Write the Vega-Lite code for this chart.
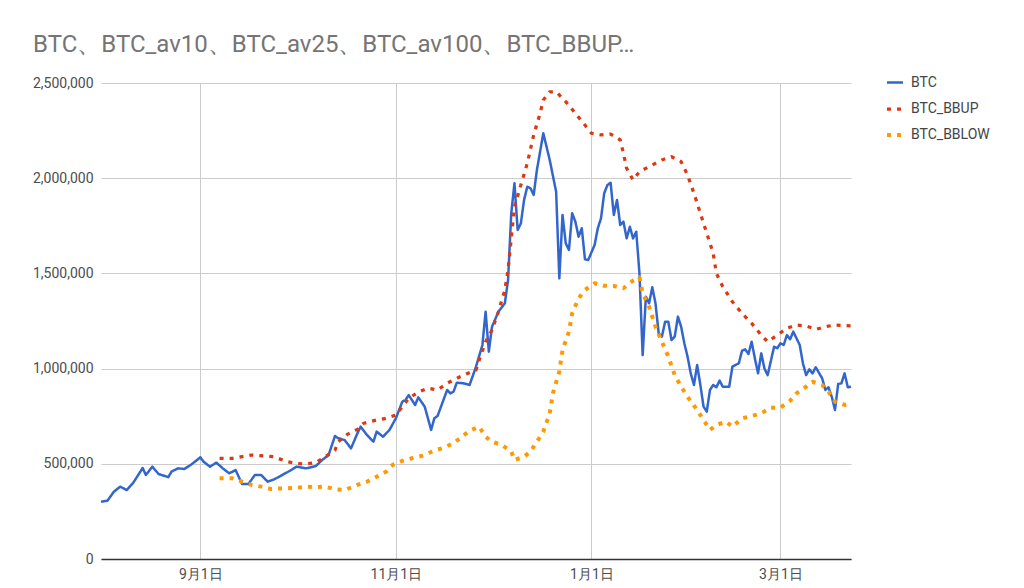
{
  "$schema": "https://vega.github.io/schema/vega-lite/v6.json",
  "autosize": {"type": "none"},
  "width": 750,
  "height": 476,
  "padding": {"left": 101, "top": 83, "right": 173, "bottom": 29},
  "background": "white",
  "title": {
    "text": "BTC、BTC_av10、BTC_av25、BTC_av100、BTC_BBUP…",
    "anchor": "start",
    "frame": "group",
    "dx": -68,
    "offset": 16,
    "font": "Roboto",
    "fontSize": 24,
    "fontWeight": "normal",
    "color": "#757575"
  },
  "data": {
    "format": {"parse": {"date": "date:'%Y-%m-%d'"}},
    "values": [
      {"date": "2017-08-01", "series": "BTC", "value": 301000},
      {"date": "2017-08-03", "series": "BTC", "value": 306000},
      {"date": "2017-08-05", "series": "BTC", "value": 353000},
      {"date": "2017-08-07", "series": "BTC", "value": 380000},
      {"date": "2017-08-09", "series": "BTC", "value": 362000},
      {"date": "2017-08-11", "series": "BTC", "value": 399000},
      {"date": "2017-08-14", "series": "BTC", "value": 478000},
      {"date": "2017-08-15", "series": "BTC", "value": 441000},
      {"date": "2017-08-17", "series": "BTC", "value": 485000},
      {"date": "2017-08-19", "series": "BTC", "value": 446000},
      {"date": "2017-08-22", "series": "BTC", "value": 430000},
      {"date": "2017-08-23", "series": "BTC", "value": 459000},
      {"date": "2017-08-25", "series": "BTC", "value": 476000},
      {"date": "2017-08-27", "series": "BTC", "value": 473000},
      {"date": "2017-08-29", "series": "BTC", "value": 494000},
      {"date": "2017-09-01", "series": "BTC", "value": 534000},
      {"date": "2017-09-02", "series": "BTC", "value": 511000},
      {"date": "2017-09-04", "series": "BTC", "value": 485000},
      {"date": "2017-09-06", "series": "BTC", "value": 506000},
      {"date": "2017-09-08", "series": "BTC", "value": 476000},
      {"date": "2017-09-10", "series": "BTC", "value": 450000},
      {"date": "2017-09-12", "series": "BTC", "value": 467000},
      {"date": "2017-09-14", "series": "BTC", "value": 394000},
      {"date": "2017-09-16", "series": "BTC", "value": 394000},
      {"date": "2017-09-18", "series": "BTC", "value": 441000},
      {"date": "2017-09-20", "series": "BTC", "value": 441000},
      {"date": "2017-09-22", "series": "BTC", "value": 406000},
      {"date": "2017-09-24", "series": "BTC", "value": 418000},
      {"date": "2017-09-26", "series": "BTC", "value": 436000},
      {"date": "2017-09-29", "series": "BTC", "value": 464000},
      {"date": "2017-10-01", "series": "BTC", "value": 485000},
      {"date": "2017-10-04", "series": "BTC", "value": 476000},
      {"date": "2017-10-07", "series": "BTC", "value": 488000},
      {"date": "2017-10-09", "series": "BTC", "value": 520000},
      {"date": "2017-10-11", "series": "BTC", "value": 546000},
      {"date": "2017-10-13", "series": "BTC", "value": 646000},
      {"date": "2017-10-14", "series": "BTC", "value": 634000},
      {"date": "2017-10-16", "series": "BTC", "value": 625000},
      {"date": "2017-10-18", "series": "BTC", "value": 581000},
      {"date": "2017-10-20", "series": "BTC", "value": 660000},
      {"date": "2017-10-21", "series": "BTC", "value": 695000},
      {"date": "2017-10-23", "series": "BTC", "value": 651000},
      {"date": "2017-10-25", "series": "BTC", "value": 616000},
      {"date": "2017-10-26", "series": "BTC", "value": 669000},
      {"date": "2017-10-28", "series": "BTC", "value": 642000},
      {"date": "2017-10-30", "series": "BTC", "value": 678000},
      {"date": "2017-11-01", "series": "BTC", "value": 739000},
      {"date": "2017-11-03", "series": "BTC", "value": 826000},
      {"date": "2017-11-04", "series": "BTC", "value": 835000},
      {"date": "2017-11-05", "series": "BTC", "value": 861000},
      {"date": "2017-11-07", "series": "BTC", "value": 809000},
      {"date": "2017-11-08", "series": "BTC", "value": 849000},
      {"date": "2017-11-10", "series": "BTC", "value": 800000},
      {"date": "2017-11-12", "series": "BTC", "value": 678000},
      {"date": "2017-11-13", "series": "BTC", "value": 739000},
      {"date": "2017-11-14", "series": "BTC", "value": 751000},
      {"date": "2017-11-17", "series": "BTC", "value": 888000},
      {"date": "2017-11-18", "series": "BTC", "value": 870000},
      {"date": "2017-11-19", "series": "BTC", "value": 879000},
      {"date": "2017-11-20", "series": "BTC", "value": 926000},
      {"date": "2017-11-22", "series": "BTC", "value": 923000},
      {"date": "2017-11-24", "series": "BTC", "value": 914000},
      {"date": "2017-11-26", "series": "BTC", "value": 1010000},
      {"date": "2017-11-28", "series": "BTC", "value": 1124000},
      {"date": "2017-11-29", "series": "BTC", "value": 1299000},
      {"date": "2017-11-30", "series": "BTC", "value": 1089000},
      {"date": "2017-12-01", "series": "BTC", "value": 1220000},
      {"date": "2017-12-03", "series": "BTC", "value": 1299000},
      {"date": "2017-12-05", "series": "BTC", "value": 1343000},
      {"date": "2017-12-06", "series": "BTC", "value": 1465000},
      {"date": "2017-12-07", "series": "BTC", "value": 1816000},
      {"date": "2017-12-08", "series": "BTC", "value": 1973000},
      {"date": "2017-12-09", "series": "BTC", "value": 1728000},
      {"date": "2017-12-10", "series": "BTC", "value": 1763000},
      {"date": "2017-12-11", "series": "BTC", "value": 1886000},
      {"date": "2017-12-12", "series": "BTC", "value": 1955000},
      {"date": "2017-12-13", "series": "BTC", "value": 1947000},
      {"date": "2017-12-14", "series": "BTC", "value": 1912000},
      {"date": "2017-12-15", "series": "BTC", "value": 2043000},
      {"date": "2017-12-17", "series": "BTC", "value": 2236000},
      {"date": "2017-12-19", "series": "BTC", "value": 2096000},
      {"date": "2017-12-21", "series": "BTC", "value": 1929000},
      {"date": "2017-12-22", "series": "BTC", "value": 1474000},
      {"date": "2017-12-23", "series": "BTC", "value": 1807000},
      {"date": "2017-12-24", "series": "BTC", "value": 1658000},
      {"date": "2017-12-25", "series": "BTC", "value": 1623000},
      {"date": "2017-12-26", "series": "BTC", "value": 1816000},
      {"date": "2017-12-27", "series": "BTC", "value": 1772000},
      {"date": "2017-12-28", "series": "BTC", "value": 1693000},
      {"date": "2017-12-29", "series": "BTC", "value": 1737000},
      {"date": "2017-12-30", "series": "BTC", "value": 1574000},
      {"date": "2017-12-31", "series": "BTC", "value": 1570000},
      {"date": "2018-01-02", "series": "BTC", "value": 1649000},
      {"date": "2018-01-03", "series": "BTC", "value": 1737000},
      {"date": "2018-01-04", "series": "BTC", "value": 1789000},
      {"date": "2018-01-05", "series": "BTC", "value": 1921000},
      {"date": "2018-01-06", "series": "BTC", "value": 1964000},
      {"date": "2018-01-07", "series": "BTC", "value": 1976000},
      {"date": "2018-01-08", "series": "BTC", "value": 1807000},
      {"date": "2018-01-09", "series": "BTC", "value": 1886000},
      {"date": "2018-01-10", "series": "BTC", "value": 1754000},
      {"date": "2018-01-11", "series": "BTC", "value": 1772000},
      {"date": "2018-01-12", "series": "BTC", "value": 1684000},
      {"date": "2018-01-13", "series": "BTC", "value": 1745000},
      {"date": "2018-01-14", "series": "BTC", "value": 1684000},
      {"date": "2018-01-15", "series": "BTC", "value": 1719000},
      {"date": "2018-01-16", "series": "BTC", "value": 1500000},
      {"date": "2018-01-17", "series": "BTC", "value": 1071000},
      {"date": "2018-01-18", "series": "BTC", "value": 1378000},
      {"date": "2018-01-19", "series": "BTC", "value": 1343000},
      {"date": "2018-01-20", "series": "BTC", "value": 1427000},
      {"date": "2018-01-21", "series": "BTC", "value": 1343000},
      {"date": "2018-01-22", "series": "BTC", "value": 1185000},
      {"date": "2018-01-23", "series": "BTC", "value": 1168000},
      {"date": "2018-01-24", "series": "BTC", "value": 1246000},
      {"date": "2018-01-25", "series": "BTC", "value": 1246000},
      {"date": "2018-01-26", "series": "BTC", "value": 1150000},
      {"date": "2018-01-27", "series": "BTC", "value": 1168000},
      {"date": "2018-01-28", "series": "BTC", "value": 1273000},
      {"date": "2018-01-29", "series": "BTC", "value": 1220000},
      {"date": "2018-01-30", "series": "BTC", "value": 1133000},
      {"date": "2018-01-31", "series": "BTC", "value": 1063000},
      {"date": "2018-02-01", "series": "BTC", "value": 975000},
      {"date": "2018-02-02", "series": "BTC", "value": 914000},
      {"date": "2018-02-03", "series": "BTC", "value": 1019000},
      {"date": "2018-02-04", "series": "BTC", "value": 914000},
      {"date": "2018-02-05", "series": "BTC", "value": 800000},
      {"date": "2018-02-06", "series": "BTC", "value": 774000},
      {"date": "2018-02-07", "series": "BTC", "value": 888000},
      {"date": "2018-02-08", "series": "BTC", "value": 914000},
      {"date": "2018-02-09", "series": "BTC", "value": 902000},
      {"date": "2018-02-10", "series": "BTC", "value": 937000},
      {"date": "2018-02-11", "series": "BTC", "value": 905000},
      {"date": "2018-02-13", "series": "BTC", "value": 905000},
      {"date": "2018-02-14", "series": "BTC", "value": 1010000},
      {"date": "2018-02-16", "series": "BTC", "value": 1028000},
      {"date": "2018-02-17", "series": "BTC", "value": 1094000},
      {"date": "2018-02-18", "series": "BTC", "value": 1101000},
      {"date": "2018-02-19", "series": "BTC", "value": 1077000},
      {"date": "2018-02-20", "series": "BTC", "value": 1141000},
      {"date": "2018-02-21", "series": "BTC", "value": 1054000},
      {"date": "2018-02-22", "series": "BTC", "value": 975000},
      {"date": "2018-02-23", "series": "BTC", "value": 1080000},
      {"date": "2018-02-24", "series": "BTC", "value": 1000000},
      {"date": "2018-02-25", "series": "BTC", "value": 966000},
      {"date": "2018-02-27", "series": "BTC", "value": 1115000},
      {"date": "2018-02-28", "series": "BTC", "value": 1107000},
      {"date": "2018-03-01", "series": "BTC", "value": 1133000},
      {"date": "2018-03-02", "series": "BTC", "value": 1124000},
      {"date": "2018-03-03", "series": "BTC", "value": 1176000},
      {"date": "2018-03-04", "series": "BTC", "value": 1154000},
      {"date": "2018-03-05", "series": "BTC", "value": 1194000},
      {"date": "2018-03-07", "series": "BTC", "value": 1124000},
      {"date": "2018-03-08", "series": "BTC", "value": 1028000},
      {"date": "2018-03-09", "series": "BTC", "value": 966000},
      {"date": "2018-03-10", "series": "BTC", "value": 996000},
      {"date": "2018-03-11", "series": "BTC", "value": 975000},
      {"date": "2018-03-12", "series": "BTC", "value": 1007000},
      {"date": "2018-03-14", "series": "BTC", "value": 949000},
      {"date": "2018-03-15", "series": "BTC", "value": 888000},
      {"date": "2018-03-16", "series": "BTC", "value": 902000},
      {"date": "2018-03-17", "series": "BTC", "value": 852000},
      {"date": "2018-03-18", "series": "BTC", "value": 783000},
      {"date": "2018-03-19", "series": "BTC", "value": 919000},
      {"date": "2018-03-20", "series": "BTC", "value": 923000},
      {"date": "2018-03-21", "series": "BTC", "value": 975000},
      {"date": "2018-03-22", "series": "BTC", "value": 902000},
      {"date": "2018-03-23", "series": "BTC", "value": 905000},

      {"date": "2017-09-07", "series": "BTC_BBUP", "value": 529000},
      {"date": "2017-09-11", "series": "BTC_BBUP", "value": 529000},
      {"date": "2017-09-17", "series": "BTC_BBUP", "value": 546000},
      {"date": "2017-09-21", "series": "BTC_BBUP", "value": 541000},
      {"date": "2017-09-24", "series": "BTC_BBUP", "value": 537000},
      {"date": "2017-09-28", "series": "BTC_BBUP", "value": 511000},
      {"date": "2017-10-01", "series": "BTC_BBUP", "value": 502000},
      {"date": "2017-10-04", "series": "BTC_BBUP", "value": 499000},
      {"date": "2017-10-07", "series": "BTC_BBUP", "value": 506000},
      {"date": "2017-10-10", "series": "BTC_BBUP", "value": 537000},
      {"date": "2017-10-13", "series": "BTC_BBUP", "value": 572000},
      {"date": "2017-10-14", "series": "BTC_BBUP", "value": 616000},
      {"date": "2017-10-17", "series": "BTC_BBUP", "value": 656000},
      {"date": "2017-10-20", "series": "BTC_BBUP", "value": 681000},
      {"date": "2017-10-22", "series": "BTC_BBUP", "value": 713000},
      {"date": "2017-10-26", "series": "BTC_BBUP", "value": 730000},
      {"date": "2017-10-29", "series": "BTC_BBUP", "value": 739000},
      {"date": "2017-11-01", "series": "BTC_BBUP", "value": 756000},
      {"date": "2017-11-03", "series": "BTC_BBUP", "value": 800000},
      {"date": "2017-11-05", "series": "BTC_BBUP", "value": 844000},
      {"date": "2017-11-08", "series": "BTC_BBUP", "value": 876000},
      {"date": "2017-11-11", "series": "BTC_BBUP", "value": 897000},
      {"date": "2017-11-14", "series": "BTC_BBUP", "value": 888000},
      {"date": "2017-11-17", "series": "BTC_BBUP", "value": 923000},
      {"date": "2017-11-20", "series": "BTC_BBUP", "value": 949000},
      {"date": "2017-11-23", "series": "BTC_BBUP", "value": 972000},
      {"date": "2017-11-26", "series": "BTC_BBUP", "value": 993000},
      {"date": "2017-11-27", "series": "BTC_BBUP", "value": 1045000},
      {"date": "2017-11-29", "series": "BTC_BBUP", "value": 1141000},
      {"date": "2017-12-01", "series": "BTC_BBUP", "value": 1203000},
      {"date": "2017-12-03", "series": "BTC_BBUP", "value": 1299000},
      {"date": "2017-12-05", "series": "BTC_BBUP", "value": 1413000},
      {"date": "2017-12-06", "series": "BTC_BBUP", "value": 1518000},
      {"date": "2017-12-07", "series": "BTC_BBUP", "value": 1684000},
      {"date": "2017-12-08", "series": "BTC_BBUP", "value": 1850000},
      {"date": "2017-12-10", "series": "BTC_BBUP", "value": 1964000},
      {"date": "2017-12-12", "series": "BTC_BBUP", "value": 2078000},
      {"date": "2017-12-14", "series": "BTC_BBUP", "value": 2227000},
      {"date": "2017-12-16", "series": "BTC_BBUP", "value": 2341000},
      {"date": "2017-12-17", "series": "BTC_BBUP", "value": 2411000},
      {"date": "2017-12-19", "series": "BTC_BBUP", "value": 2454000},
      {"date": "2017-12-21", "series": "BTC_BBUP", "value": 2454000},
      {"date": "2017-12-24", "series": "BTC_BBUP", "value": 2402000},
      {"date": "2017-12-27", "series": "BTC_BBUP", "value": 2341000},
      {"date": "2017-12-30", "series": "BTC_BBUP", "value": 2279000},
      {"date": "2018-01-01", "series": "BTC_BBUP", "value": 2236000},
      {"date": "2018-01-04", "series": "BTC_BBUP", "value": 2227000},
      {"date": "2018-01-07", "series": "BTC_BBUP", "value": 2232000},
      {"date": "2018-01-10", "series": "BTC_BBUP", "value": 2201000},
      {"date": "2018-01-11", "series": "BTC_BBUP", "value": 2131000},
      {"date": "2018-01-12", "series": "BTC_BBUP", "value": 2052000},
      {"date": "2018-01-14", "series": "BTC_BBUP", "value": 1991000},
      {"date": "2018-01-16", "series": "BTC_BBUP", "value": 2034000},
      {"date": "2018-01-20", "series": "BTC_BBUP", "value": 2069000},
      {"date": "2018-01-23", "series": "BTC_BBUP", "value": 2096000},
      {"date": "2018-01-26", "series": "BTC_BBUP", "value": 2113000},
      {"date": "2018-01-29", "series": "BTC_BBUP", "value": 2087000},
      {"date": "2018-01-31", "series": "BTC_BBUP", "value": 2017000},
      {"date": "2018-02-02", "series": "BTC_BBUP", "value": 1921000},
      {"date": "2018-02-04", "series": "BTC_BBUP", "value": 1816000},
      {"date": "2018-02-06", "series": "BTC_BBUP", "value": 1711000},
      {"date": "2018-02-08", "series": "BTC_BBUP", "value": 1606000},
      {"date": "2018-02-09", "series": "BTC_BBUP", "value": 1500000},
      {"date": "2018-02-11", "series": "BTC_BBUP", "value": 1430000},
      {"date": "2018-02-14", "series": "BTC_BBUP", "value": 1351000},
      {"date": "2018-02-17", "series": "BTC_BBUP", "value": 1290000},
      {"date": "2018-02-20", "series": "BTC_BBUP", "value": 1238000},
      {"date": "2018-02-23", "series": "BTC_BBUP", "value": 1176000},
      {"date": "2018-02-25", "series": "BTC_BBUP", "value": 1141000},
      {"date": "2018-02-28", "series": "BTC_BBUP", "value": 1176000},
      {"date": "2018-03-03", "series": "BTC_BBUP", "value": 1212000},
      {"date": "2018-03-06", "series": "BTC_BBUP", "value": 1229000},
      {"date": "2018-03-09", "series": "BTC_BBUP", "value": 1224000},
      {"date": "2018-03-12", "series": "BTC_BBUP", "value": 1206000},
      {"date": "2018-03-15", "series": "BTC_BBUP", "value": 1220000},
      {"date": "2018-03-18", "series": "BTC_BBUP", "value": 1229000},
      {"date": "2018-03-23", "series": "BTC_BBUP", "value": 1224000},

      {"date": "2017-09-07", "series": "BTC_BBLOW", "value": 424000},
      {"date": "2017-09-11", "series": "BTC_BBLOW", "value": 424000},
      {"date": "2017-09-14", "series": "BTC_BBLOW", "value": 406000},
      {"date": "2017-09-17", "series": "BTC_BBLOW", "value": 389000},
      {"date": "2017-09-20", "series": "BTC_BBLOW", "value": 380000},
      {"date": "2017-09-23", "series": "BTC_BBLOW", "value": 368000},
      {"date": "2017-09-27", "series": "BTC_BBLOW", "value": 371000},
      {"date": "2017-10-01", "series": "BTC_BBLOW", "value": 374000},
      {"date": "2017-10-04", "series": "BTC_BBLOW", "value": 380000},
      {"date": "2017-10-07", "series": "BTC_BBLOW", "value": 377000},
      {"date": "2017-10-10", "series": "BTC_BBLOW", "value": 380000},
      {"date": "2017-10-13", "series": "BTC_BBLOW", "value": 366000},
      {"date": "2017-10-16", "series": "BTC_BBLOW", "value": 362000},
      {"date": "2017-10-20", "series": "BTC_BBLOW", "value": 389000},
      {"date": "2017-10-23", "series": "BTC_BBLOW", "value": 406000},
      {"date": "2017-10-26", "series": "BTC_BBLOW", "value": 432000},
      {"date": "2017-10-29", "series": "BTC_BBLOW", "value": 459000},
      {"date": "2017-10-31", "series": "BTC_BBLOW", "value": 494000},
      {"date": "2017-11-03", "series": "BTC_BBLOW", "value": 515000},
      {"date": "2017-11-06", "series": "BTC_BBLOW", "value": 529000},
      {"date": "2017-11-09", "series": "BTC_BBLOW", "value": 541000},
      {"date": "2017-11-13", "series": "BTC_BBLOW", "value": 569000},
      {"date": "2017-11-16", "series": "BTC_BBLOW", "value": 585000},
      {"date": "2017-11-19", "series": "BTC_BBLOW", "value": 608000},
      {"date": "2017-11-21", "series": "BTC_BBLOW", "value": 634000},
      {"date": "2017-11-24", "series": "BTC_BBLOW", "value": 674000},
      {"date": "2017-11-27", "series": "BTC_BBLOW", "value": 695000},
      {"date": "2017-11-29", "series": "BTC_BBLOW", "value": 642000},
      {"date": "2017-12-01", "series": "BTC_BBLOW", "value": 616000},
      {"date": "2017-12-04", "series": "BTC_BBLOW", "value": 599000},
      {"date": "2017-12-07", "series": "BTC_BBLOW", "value": 565000},
      {"date": "2017-12-08", "series": "BTC_BBLOW", "value": 520000},
      {"date": "2017-12-11", "series": "BTC_BBLOW", "value": 537000},
      {"date": "2017-12-13", "series": "BTC_BBLOW", "value": 564000},
      {"date": "2017-12-15", "series": "BTC_BBLOW", "value": 616000},
      {"date": "2017-12-17", "series": "BTC_BBLOW", "value": 669000},
      {"date": "2017-12-19", "series": "BTC_BBLOW", "value": 765000},
      {"date": "2017-12-20", "series": "BTC_BBLOW", "value": 870000},
      {"date": "2017-12-22", "series": "BTC_BBLOW", "value": 984000},
      {"date": "2017-12-23", "series": "BTC_BBLOW", "value": 1098000},
      {"date": "2017-12-25", "series": "BTC_BBLOW", "value": 1194000},
      {"date": "2017-12-26", "series": "BTC_BBLOW", "value": 1290000},
      {"date": "2017-12-28", "series": "BTC_BBLOW", "value": 1369000},
      {"date": "2017-12-30", "series": "BTC_BBLOW", "value": 1413000},
      {"date": "2018-01-02", "series": "BTC_BBLOW", "value": 1448000},
      {"date": "2018-01-05", "series": "BTC_BBLOW", "value": 1435000},
      {"date": "2018-01-08", "series": "BTC_BBLOW", "value": 1434000},
      {"date": "2018-01-11", "series": "BTC_BBLOW", "value": 1422000},
      {"date": "2018-01-14", "series": "BTC_BBLOW", "value": 1462000},
      {"date": "2018-01-16", "series": "BTC_BBLOW", "value": 1479000},
      {"date": "2018-01-17", "series": "BTC_BBLOW", "value": 1395000},
      {"date": "2018-01-19", "series": "BTC_BBLOW", "value": 1325000},
      {"date": "2018-01-21", "series": "BTC_BBLOW", "value": 1220000},
      {"date": "2018-01-23", "series": "BTC_BBLOW", "value": 1141000},
      {"date": "2018-01-25", "series": "BTC_BBLOW", "value": 1063000},
      {"date": "2018-01-27", "series": "BTC_BBLOW", "value": 966000},
      {"date": "2018-01-29", "series": "BTC_BBLOW", "value": 905000},
      {"date": "2018-01-31", "series": "BTC_BBLOW", "value": 852000},
      {"date": "2018-02-03", "series": "BTC_BBLOW", "value": 783000},
      {"date": "2018-02-05", "series": "BTC_BBLOW", "value": 730000},
      {"date": "2018-02-07", "series": "BTC_BBLOW", "value": 678000},
      {"date": "2018-02-09", "series": "BTC_BBLOW", "value": 704000},
      {"date": "2018-02-12", "series": "BTC_BBLOW", "value": 721000},
      {"date": "2018-02-14", "series": "BTC_BBLOW", "value": 695000},
      {"date": "2018-02-17", "series": "BTC_BBLOW", "value": 739000},
      {"date": "2018-02-20", "series": "BTC_BBLOW", "value": 751000},
      {"date": "2018-02-23", "series": "BTC_BBLOW", "value": 765000},
      {"date": "2018-02-26", "series": "BTC_BBLOW", "value": 795000},
      {"date": "2018-03-01", "series": "BTC_BBLOW", "value": 795000},
      {"date": "2018-03-04", "series": "BTC_BBLOW", "value": 831000},
      {"date": "2018-03-06", "series": "BTC_BBLOW", "value": 870000},
      {"date": "2018-03-09", "series": "BTC_BBLOW", "value": 905000},
      {"date": "2018-03-11", "series": "BTC_BBLOW", "value": 931000},
      {"date": "2018-03-14", "series": "BTC_BBLOW", "value": 914000},
      {"date": "2018-03-16", "series": "BTC_BBLOW", "value": 879000},
      {"date": "2018-03-18", "series": "BTC_BBLOW", "value": 826000},
      {"date": "2018-03-21", "series": "BTC_BBLOW", "value": 809000},
      {"date": "2018-03-23", "series": "BTC_BBLOW", "value": 818000}
    ]
  },
  "mark": {"type": "line", "strokeCap": "butt", "strokeJoin": "round"},
  "encoding": {
    "x": {
      "field": "date",
      "type": "temporal",
      "title": null,
      "scale": {
        "domain": [
          {"year": 2017, "month": 8, "date": 1},
          {"year": 2018, "month": 3, "date": 23}
        ],
        "nice": false
      },
      "axis": {
        "values": [
          {"year": 2017, "month": 9, "date": 1},
          {"year": 2017, "month": 11, "date": 1},
          {"year": 2018, "month": 1, "date": 1},
          {"year": 2018, "month": 3, "date": 1}
        ],
        "format": "%-m月%-d日",
        "grid": true,
        "gridColor": "#cccccc",
        "ticks": false,
        "domain": true,
        "domainColor": "#333333",
        "domainWidth": 1.5,
        "labelPadding": 8,
        "labelFont": "Roboto",
        "labelFontSize": 14,
        "labelColor": "#4d4d4d",
        "labelFlush": false
      }
    },
    "y": {
      "field": "value",
      "type": "quantitative",
      "title": null,
      "scale": {"domain": [0, 2500000], "nice": false},
      "axis": {
        "values": [0, 500000, 1000000, 1500000, 2000000, 2500000],
        "format": ",.0f",
        "grid": true,
        "gridColor": "#cccccc",
        "ticks": false,
        "domain": false,
        "labelPadding": 8,
        "labelFont": "Roboto",
        "labelFontSize": 14,
        "labelColor": "#4d4d4d"
      }
    },
    "color": {
      "field": "series",
      "type": "nominal",
      "scale": {
        "domain": ["BTC", "BTC_BBUP", "BTC_BBLOW"],
        "range": ["#3366cc", "#dc3912", "#ff9900"]
      },
      "legend": {
        "title": null,
        "orient": "none",
        "legendX": 784,
        "legendY": -10,
        "symbolType": "stroke",
        "symbolSize": 256,
        "symbolStrokeWidth": 4,
        "labelFont": "Roboto",
        "labelFontSize": 14,
        "labelColor": "#444444",
        "labelOffset": 6,
        "rowPadding": 9,
        "padding": 0
      }
    },
    "strokeDash": {
      "field": "series",
      "type": "nominal",
      "scale": {
        "domain": ["BTC", "BTC_BBUP", "BTC_BBLOW"],
        "range": [[1, 0], [4, 6], [4, 6]]
      },
      "legend": null
    },
    "strokeWidth": {
      "field": "series",
      "type": "nominal",
      "scale": {
        "domain": ["BTC", "BTC_BBUP", "BTC_BBLOW"],
        "range": [2.5, 4, 4]
      },
      "legend": null
    }
  },
  "config": {
    "view": {"stroke": null},
    "font": "Roboto"
  }
}
